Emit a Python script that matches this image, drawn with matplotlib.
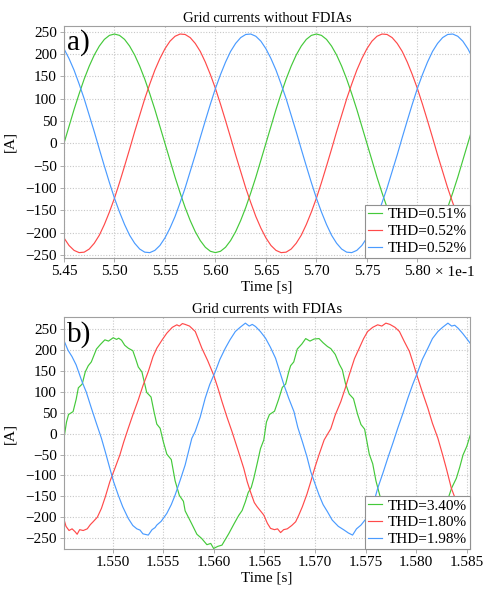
import numpy as np
import matplotlib
matplotlib.use("Agg")
import matplotlib.pyplot as plt

plt.rcParams['font.family'] = ['Liberation Serif', 'DejaVu Serif']

# ---- panel a) : grid currents without FDIAs (time in units of 1e-1 s) ----
t_a = np.round(np.arange(5.450, 5.856, 0.005), 3)
ia_green = [0, 38, 76, 111, 144, 173, 198, 218, 233, 242, 245, 242, 233, 218, 198, 173, 144, 111, 76, 38,
            0, -38, -76, -111, -144, -173, -198, -218, -233, -242, -245, -242, -233, -218, -198, -173, -144, -111, -76, -38,
            0, 38, 76, 111, 144, 173, 198, 218, 233, 242, 245, 242, 233, 218, 198, 173, 144, 111, 76, 38,
            0, -38, -76, -111, -144, -173, -198, -218, -233, -242, -245, -242, -233, -218, -198, -173, -144, -111, -76, -38,
            0, 38]
ia_red = [-212, -229, -240, -245, -244, -237, -224, -206, -182, -154, -123, -88, -51, -13, 26, 63, 100, 133, 164, 190,
          212, 229, 240, 245, 244, 237, 224, 206, 182, 154, 123, 88, 51, 13, -26, -63, -100, -133, -164, -190,
          -212, -229, -240, -245, -244, -237, -224, -206, -182, -154, -123, -88, -51, -13, 26, 63, 100, 133, 164, 190,
          212, 229, 240, 245, 244, 237, 224, 206, 182, 154, 123, 88, 51, 13, -26, -63, -100, -133, -164, -190,
          -212, -229]
ia_blue = [212, 190, 164, 133, 100, 63, 26, -13, -51, -88, -123, -154, -182, -206, -224, -237, -244, -245, -240, -229,
           -212, -190, -164, -133, -100, -63, -26, 13, 51, 88, 123, 154, 182, 206, 224, 237, 244, 245, 240, 229,
           212, 190, 164, 133, 100, 63, 26, -13, -51, -88, -123, -154, -182, -206, -224, -237, -244, -245, -240, -229,
           -212, -190, -164, -133, -100, -63, -26, 13, 51, 88, 123, 154, 182, 206, 224, 237, 244, 245, 240, 229,
           212, 190]
thd_a = ["THD=0.51%", "THD=0.52%", "THD=0.52%"]

# ---- panel b) : grid currents with FDIAs (time in s) ----
tb_green = [1.54517, 1.54545, 1.54565, 1.54610, 1.54640, 1.54662, 1.54700, 1.54730, 1.54760, 1.54790,
            1.54841, 1.54880, 1.54924, 1.54960, 1.55006, 1.55040, 1.55060, 1.55089, 1.55120, 1.55155,
            1.55200, 1.55230, 1.55254, 1.55290, 1.55320, 1.55337, 1.55380, 1.55410, 1.55437, 1.55470,
            1.55500, 1.55536, 1.55580, 1.55618, 1.55660, 1.55700, 1.55717, 1.55780, 1.55833, 1.55880,
            1.55932, 1.55970, 1.55998, 1.56040, 1.56081, 1.56110, 1.56147, 1.56200, 1.56246, 1.56280,
            1.56312, 1.56340, 1.56370, 1.56395, 1.56430, 1.56461, 1.56494, 1.56520, 1.56550, 1.56600,
            1.56640, 1.56677, 1.56710, 1.56740, 1.56759, 1.56790, 1.56825, 1.56870, 1.56908, 1.56950,
            1.56991, 1.57040, 1.57080, 1.57123, 1.57156, 1.57200, 1.57239, 1.57270, 1.57300, 1.57338,
            1.57380, 1.57420, 1.57454, 1.57490, 1.57536, 1.57570, 1.57602, 1.57640, 1.57668, 1.57720,
            1.57800, 1.57860, 1.57920, 1.58000, 1.58060, 1.58120, 1.58200, 1.58260, 1.58300, 1.58350,
            1.58396, 1.58430, 1.58462, 1.58500, 1.58530, 1.58545, 1.58560]
ib_green = [-15, 28, 46, 53, 82, 110, 119, 148, 163, 172,
            203, 214, 225, 222, 230, 226, 229, 224, 212, 205,
            199, 178, 160, 148, 117, 99, 88, 52, 23, 13,
            -18, -49, -62, -113, -148, -162, -185, -215, -241, -251,
            -266, -263, -275, -270, -267, -255, -240, -216, -196, -184,
            -163, -141, -129, -107, -70, -36, -15, 28, 46, 54,
            82, 111, 119, 148, 163, 172, 203, 215, 228, 222,
            227, 228, 218, 209, 204, 190, 167, 153, 121, 95,
            84, 47, 22, 11, -49, -72, -113, -148, -164, -200,
            -244, -262, -265, -272, -265, -245, -206, -189, -166, -130,
            -107, -80, -51, -30, -6, 5, 20]

tb_red = [1.54517, 1.54540, 1.54570, 1.54600, 1.54630, 1.54650, 1.54675, 1.54710, 1.54750, 1.54780,
          1.54808, 1.54850, 1.54890, 1.54930, 1.54973, 1.55020, 1.55072, 1.55110, 1.55155, 1.55200,
          1.55254, 1.55300, 1.55353, 1.55400, 1.55437, 1.55490, 1.55536, 1.55590, 1.55635, 1.55660,
          1.55690, 1.55717, 1.55760, 1.55817, 1.55850, 1.55882, 1.55940, 1.55998, 1.56040, 1.56081,
          1.56130, 1.56180, 1.56240, 1.56296, 1.56330, 1.56362, 1.56400, 1.56428, 1.56494, 1.56530,
          1.56561, 1.56600, 1.56630, 1.56660, 1.56690, 1.56726, 1.56770, 1.56809, 1.56840, 1.56875,
          1.56920, 1.56958, 1.57000, 1.57040, 1.57090, 1.57156, 1.57200, 1.57255, 1.57300, 1.57338,
          1.57390, 1.57437, 1.57480, 1.57520, 1.57570, 1.57619, 1.57660, 1.57700, 1.57740, 1.57790,
          1.57834, 1.57880, 1.57933, 1.57975, 1.58016, 1.58060, 1.58115, 1.58160, 1.58214, 1.58260,
          1.58297, 1.58346, 1.58400, 1.58450, 1.58500, 1.58540]
ib_red = [-203, -222, -232, -228, -235, -241, -230, -232, -228, -218,
          -211, -200, -179, -150, -115, -85, -51, -20, 13, 45,
          81, 115, 149, 185, 205, 225, 241, 255, 261, 258,
          264, 262, 258, 245, 225, 205, 175, 141, 110, 77,
          40, 5, -40, -83, -115, -139, -165, -175, -195, -215,
          -227, -230, -228, -237, -230, -228, -220, -211, -195, -175,
          -145, -115, -80, -50, -15, 12, 45, 77, 110, 141,
          180, 205, 228, 245, 255, 261, 258, 265, 262, 255,
          245, 222, 197, 165, 133, 100, 61, 25, -11, -50,
          -83, -130, -165, -185, -200, -212]

tb_blue = [1.54517, 1.54560, 1.54599, 1.54640, 1.54698, 1.54740, 1.54791, 1.54840, 1.54890, 1.54930,
           1.54973, 1.55010, 1.55056, 1.55100, 1.55155, 1.55200, 1.55240, 1.55271, 1.55300, 1.55353,
           1.55390, 1.55420, 1.55437, 1.55480, 1.55536, 1.55580, 1.55618, 1.55670, 1.55717, 1.55783,
           1.55816, 1.55866, 1.55915, 1.55960, 1.56015, 1.56060, 1.56114, 1.56160, 1.56213, 1.56260,
           1.56312, 1.56350, 1.56380, 1.56412, 1.56460, 1.56511, 1.56560, 1.56610, 1.56650, 1.56693,
           1.56740, 1.56792, 1.56830, 1.56875, 1.56920, 1.56958, 1.57000, 1.57040, 1.57080, 1.57123,
           1.57170, 1.57230, 1.57288, 1.57330, 1.57371, 1.57410, 1.57454, 1.57500, 1.57536, 1.57580,
           1.57619, 1.57670, 1.57718, 1.57770, 1.57817, 1.57870, 1.57917, 1.57965, 1.58016, 1.58060,
           1.58115, 1.58160, 1.58214, 1.58260, 1.58313, 1.58350, 1.58380, 1.58413, 1.58460, 1.58495,
           1.58545]
ib_blue = [225, 200, 185, 165, 125, 100, 61, 25, -11, -45,
           -83, -115, -147, -175, -203, -220, -228, -231, -240, -243,
           -230, -225, -219, -210, -191, -170, -147, -110, -75, -11,
           5, 40, 85, 118, 149, 178, 205, 225, 245, 255,
           265, 258, 262, 257, 245, 229, 207, 181, 150, 117,
           85, 53, 15, -19, -55, -91, -120, -147, -170, -187,
           -207, -222, -231, -238, -243, -228, -219, -205, -190, -165,
           -131, -95, -59, -22, 13, 50, 85, 118, 149, 178,
           205, 228, 245, 255, 265, 258, 260, 253, 240, 229,
           213]
thd_b = ["THD=3.40%", "THD=1.80%", "THD=1.98%"]

c_green = '#44c93a'
c_red = '#ff4a4a'
c_blue = '#4a9bff'
spine_col = '#a0a0a0'

fig = plt.figure(figsize=(4.91, 5.91), dpi=100)
ax1 = fig.add_axes([0.1303, 0.5635, 0.8267, 0.3925])
ax2 = fig.add_axes([0.1303, 0.0706, 0.8267, 0.3925])


def style(ax):
    for s in ax.spines.values():
        s.set_color(spine_col)
        s.set_linewidth(0.8)
    ax.grid(True, color='#c8c8c8', linestyle=(0, (1, 1.5)), linewidth=0.8)
    ax.tick_params(colors=spine_col, labelcolor='black', labelsize=11, length=3, width=0.6, pad=2)
    ax.set_ylabel('[A]', fontsize=11, labelpad=12)
    ax.set_xlabel('Time [s]', fontsize=11, labelpad=2)
    ax.set_yticks(np.arange(-250, 251, 50))


# panel a
ax1.plot(t_a, ia_green, color=c_green, lw=0.85, label=thd_a[0])
ax1.plot(t_a, ia_red, color=c_red, lw=0.85, label=thd_a[1])
ax1.plot(t_a, ia_blue, color=c_blue, lw=0.85, label=thd_a[2])
ax1.set_xlim(5.45, 5.852)
ax1.set_ylim(-257, 263)
ax1.set_xticks([5.45, 5.50, 5.55, 5.60, 5.65, 5.70, 5.75, 5.80])
ax1.set_xticklabels(['5.45', '5.50', '5.55', '5.60', '5.65', '5.70', '5.75', '5.80'])
style(ax1)
ax1.yaxis.set_label_coords(-0.118, 0.5)
ax1.set_title('Grid currents without FDIAs', fontsize=10.5, pad=3)
ax1.text(0.008, 0.985, 'a)', transform=ax1.transAxes, fontsize=21, va='top', ha='left')
fig.text(0.886, 0.539, '\u00d7 1e-1', fontsize=11, va='center', ha='left')
leg1 = ax1.legend(loc='lower right', fontsize=11, handlelength=0.9, handletextpad=0.4,
                  borderaxespad=0, fancybox=False, framealpha=1, borderpad=0.2, labelspacing=0.2)
leg1.get_frame().set_edgecolor('#909090')
leg1.get_frame().set_linewidth(0.8)

# panel b
ax2.plot(tb_green, ib_green, color=c_green, lw=0.85, label=thd_b[0])
ax2.plot(tb_red, ib_red, color=c_red, lw=0.85, label=thd_b[1])
ax2.plot(tb_blue, ib_blue, color=c_blue, lw=0.85, label=thd_b[2])
ax2.set_xlim(1.5452, 1.5853)
ax2.set_ylim(-277, 279)
ax2.set_xticks([1.550, 1.555, 1.560, 1.565, 1.570, 1.575, 1.580, 1.585])
ax2.set_xticklabels(['1.550', '1.555', '1.560', '1.565', '1.570', '1.575', '1.580', '1.585'])
style(ax2)
ax2.yaxis.set_label_coords(-0.118, 0.5)
ax2.set_title('Grid currents with FDIAs', fontsize=10.5, pad=3)
ax2.text(0.008, 0.985, 'b)', transform=ax2.transAxes, fontsize=21, va='top', ha='left')
leg2 = ax2.legend(loc='lower right', fontsize=11, handlelength=0.9, handletextpad=0.4,
                  borderaxespad=0, fancybox=False, framealpha=1, borderpad=0.2, labelspacing=0.2)
leg2.get_frame().set_edgecolor('#909090')
leg2.get_frame().set_linewidth(0.8)

fig.savefig('out.png', dpi=100)
